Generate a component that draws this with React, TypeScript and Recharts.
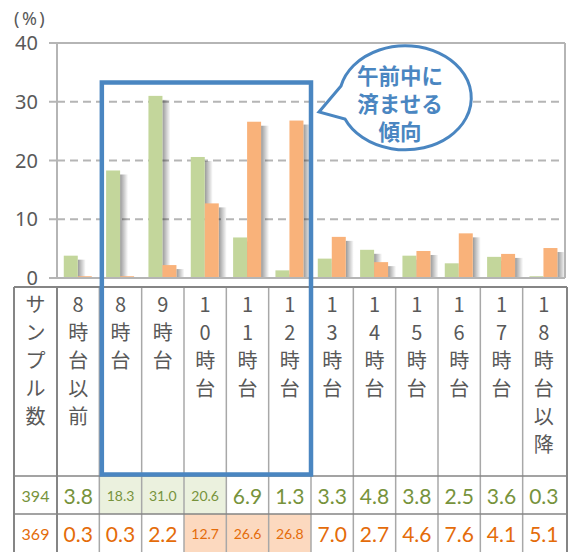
import React from 'react';
import { BarChart, Bar, XAxis, YAxis, CartesianGrid, ReferenceLine } from 'recharts';

// ---- data ----
const categories = ['8時台以前', '8時台', '9時台', '10時台', '11時台', '12時台', '13時台', '14時台', '15時台', '16時台', '17時台', '18時台以降'];
const greenValues = [3.8, 18.3, 31.0, 20.6, 6.9, 1.3, 3.3, 4.8, 3.8, 2.5, 3.6, 0.3];
const orangeValues = [0.3, 0.3, 2.2, 12.7, 26.6, 26.8, 7.0, 2.7, 4.6, 7.6, 4.1, 5.1];
const sampleSizes = [394, 369];
const yTicks = [0, 10, 20, 30, 40];
const greenHighlight = [1, 2, 3];
const orangeHighlight = [3, 4, 5];
const rowHeaderLabel = 'サンプル数';
const calloutLines = ['午前中に', '済ませる', '傾向'];
const unitLabel = '(%)';
const boxedRange = [1, 5];

const chartData = categories.map((name, i) => ({ name, green: greenValues[i], orange: orangeValues[i] }));

// ---- layout / style ----
const W = 569;
const H = 552;
const PLOT_LEFT = 57;
const PLOT_RIGHT = 565;
const PLOT_TOP = 43;
const PLOT_BOTTOM = 278;
const BAND = (PLOT_RIGHT - PLOT_LEFT) / categories.length;
const TABLE_LEFT = 14;
const TABLE_RIGHT = 567;
const TABLE_TOP = 287;
const ROW1_TOP = 476;
const ROW2_TOP = 514;
const TABLE_BOTTOM = 552;

const GREEN = '#c3d69b';
const ORANGE = '#f9b27a';
const GREEN_TEXT = '#77933c';
const ORANGE_TEXT = '#e46c0a';
const GREEN_BG = '#ebf1de';
const ORANGE_BG = '#fcd9bf';
const GRID = '#b5b5b5';
const TEXT = '#595959';
const BLUE = '#4a86c1';
const OUTER_LINE = '#858585';
const INNER_LINE = '#a8a8a8';
const JP = '"Noto Sans CJK JP", "Noto Sans", sans-serif';
const NUM = 'Lato, "Noto Sans", sans-serif';

const ShadowBar = (props: any) => {
  const { x, y, width, height, fill } = props;
  if (!(height > 0)) return null;
  return (
    <g>
      <defs>
        <linearGradient id="barShadow" x1="0" y1="0" x2="1" y2="0">
          <stop offset="0%" stopColor="#000" stopOpacity={0.4} />
          <stop offset="100%" stopColor="#000" stopOpacity={0} />
        </linearGradient>
      </defs>
      <rect x={x + width} y={y + 4} width={8} height={Math.max(height - 4, 0)} fill="url(#barShadow)" />
      <rect x={x} y={y} width={width} height={height} fill={fill} />
    </g>
  );
};

const Overlay = () => {
  const cx = 405;
  const rx = 66;
  const ry = 52;
  const bubblePath = `M 341 86 A ${rx} ${ry} 0 1 1 345 119 L 319 112 Z`;
  const boxL = PLOT_LEFT + BAND * boxedRange[0] + 2.5;
  const boxR = PLOT_LEFT + BAND * (boxedRange[1] + 1);
  const colLines = categories.slice(1).map((_, i) => PLOT_LEFT + BAND * (i + 1));
  return (
    <g>
      {/* table frame */}
      {colLines.map((lx, i) => (
        <line key={i} x1={lx} x2={lx} y1={TABLE_TOP} y2={TABLE_BOTTOM} stroke={INNER_LINE} strokeWidth={1.5} />
      ))}
      <line x1={TABLE_LEFT} x2={TABLE_RIGHT} y1={TABLE_TOP} y2={TABLE_TOP} stroke={OUTER_LINE} strokeWidth={2} />
      <line x1={TABLE_LEFT} x2={TABLE_RIGHT} y1={ROW1_TOP} y2={ROW1_TOP} stroke={OUTER_LINE} strokeWidth={1.5} />
      <line x1={TABLE_LEFT} x2={TABLE_RIGHT} y1={ROW2_TOP} y2={ROW2_TOP} stroke={OUTER_LINE} strokeWidth={1.5} />
      <line x1={TABLE_LEFT} x2={TABLE_LEFT} y1={TABLE_TOP} y2={TABLE_BOTTOM} stroke={OUTER_LINE} strokeWidth={2} />
      <line x1={PLOT_LEFT} x2={PLOT_LEFT} y1={TABLE_TOP} y2={TABLE_BOTTOM} stroke={OUTER_LINE} strokeWidth={2} />
      <line x1={TABLE_RIGHT} x2={TABLE_RIGHT} y1={TABLE_TOP} y2={TABLE_BOTTOM} stroke={OUTER_LINE} strokeWidth={2} />
      {/* first column */}
      {Array.from(rowHeaderLabel).map((ch, k) => (
        <text key={k} x={(TABLE_LEFT + PLOT_LEFT) / 2} y={303 + 28 * k} textAnchor="middle" dominantBaseline="central" fontSize={20} fill={TEXT} fontFamily={JP}>
          {ch}
        </text>
      ))}
      <text x={(TABLE_LEFT + PLOT_LEFT) / 2} y={(ROW1_TOP + ROW2_TOP) / 2} textAnchor="middle" dominantBaseline="central" fontSize={16} fill={GREEN_TEXT} fontFamily={NUM}>
        {sampleSizes[0]}
      </text>
      <text x={(TABLE_LEFT + PLOT_LEFT) / 2} y={(ROW2_TOP + TABLE_BOTTOM) / 2} textAnchor="middle" dominantBaseline="central" fontSize={16} fill={ORANGE_TEXT} fontFamily={NUM}>
        {sampleSizes[1]}
      </text>
      {/* unit */}
      <text x={14} y={18} dominantBaseline="central" fontSize={18} letterSpacing={2.5} fill={TEXT} fontFamily='"Noto Sans", sans-serif'>
        {unitLabel}
      </text>
      {/* highlighted box */}
      <rect x={boxL} y={82.5} width={boxR - boxL} height={474.5 - 82.5} fill="none" stroke={BLUE} strokeWidth={4.5} />
      {/* callout */}
      <path d={bubblePath} fill="#fff" stroke={BLUE} strokeWidth={3} strokeLinejoin="miter" />
      {calloutLines.map((t, k) => (
        <text key={k} x={cx - 5} y={74 + 28 * k} textAnchor="middle" dominantBaseline="central" fontSize={21.5} fontWeight={700} fill={BLUE} fontFamily={JP}>
          {t}
        </text>
      ))}
    </g>
  );
};

const TableTick = (props: any) => {
  const { x, index, payload } = props;
  const label: string = payload.value;
  const left = x - BAND / 2;
  const g = greenValues[index];
  const o = orangeValues[index];
  const gHi = greenHighlight.includes(index);
  const oHi = orangeHighlight.includes(index);
  return (
    <g>
      {gHi && <rect x={left} y={ROW1_TOP} width={BAND} height={ROW2_TOP - ROW1_TOP} fill={GREEN_BG} />}
      {oHi && <rect x={left} y={ROW2_TOP} width={BAND} height={TABLE_BOTTOM - ROW2_TOP} fill={ORANGE_BG} />}
      {Array.from(label).map((ch, k) => (
        <text key={k} x={x} y={303 + 28 * k} textAnchor="middle" dominantBaseline="central" fontSize={20} fill={TEXT} fontFamily={JP}>
          {ch}
        </text>
      ))}
      <text x={x} y={(ROW1_TOP + ROW2_TOP) / 2} textAnchor="middle" dominantBaseline="central" fontSize={gHi ? 14 : 21} fill={GREEN_TEXT} fontFamily={NUM}>
        {g.toFixed(1)}
      </text>
      <text x={x} y={(ROW2_TOP + TABLE_BOTTOM) / 2} textAnchor="middle" dominantBaseline="central" fontSize={oHi ? 14 : 21} fill={ORANGE_TEXT} fontFamily={NUM}>
        {o.toFixed(1)}
      </text>
      {index === categories.length - 1 && <Overlay />}
    </g>
  );
};

export default function App() {
  return (
    <div style={{ position: 'absolute', left: 0, top: 0, width: W, height: H, background: '#fff' }}>
      <BarChart
        width={W}
        height={H}
        data={chartData}
        margin={{ top: PLOT_TOP, right: 0, bottom: 0, left: 0 }}
        barCategoryGap="16%"
        barGap={0}
      >
        <CartesianGrid vertical={false} stroke={GRID} strokeWidth={2} strokeDasharray="8 5" />
        <ReferenceLine y={40} stroke={GRID} strokeWidth={2} />
        <XAxis
          dataKey="name"
          height={H - PLOT_BOTTOM}
          interval={0}
          tickLine={false}
          tickSize={0}
          tickMargin={0}
          axisLine={{ stroke: GRID, strokeWidth: 2 }}
          tick={(p: any) => <TableTick {...p} />}
        />
        <YAxis
          width={PLOT_LEFT}
          domain={[0, 40]}
          ticks={yTicks}
          interval={0}
          tickSize={8}
          tickMargin={11}
          tickLine={{ stroke: GRID, strokeWidth: 2 }}
          axisLine={{ stroke: GRID, strokeWidth: 2 }}
          tick={{ fill: TEXT, fontSize: 20, fontFamily: '"Noto Sans", sans-serif' }}
        />
        <YAxis yAxisId="r" orientation="right" width={W - PLOT_RIGHT} domain={[0, 40]} tick={false} tickLine={false} axisLine={{ stroke: GRID, strokeWidth: 2 }} />
        <Bar dataKey="green" fill={GREEN} shape={ShadowBar} isAnimationActive={false} />
        <Bar dataKey="orange" fill={ORANGE} shape={ShadowBar} isAnimationActive={false} />
      </BarChart>
    </div>
  );
}
